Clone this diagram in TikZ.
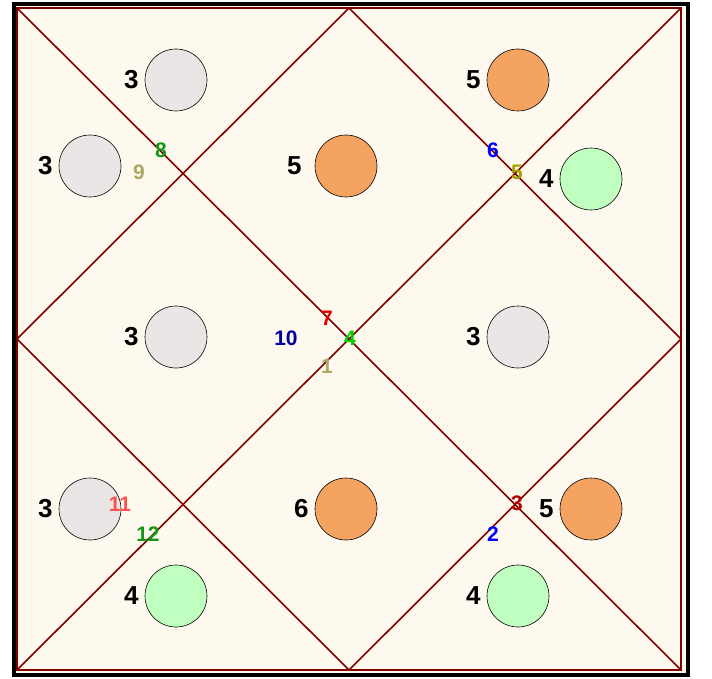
\documentclass[tikz,border=0pt]{standalone}
\usepackage{fontspec}
\setmainfont{Liberation Sans}
\usepackage{tikz}
\usetikzlibrary{
	positioning
}
\definecolor{ChartCream}{RGB}{254,249,239}
\definecolor{HouseLine}{RGB}{128,0,0}
\definecolor{PlanetGray}{RGB}{234,230,230}
\definecolor{PlanetOrange}{RGB}{244,164,96}
\definecolor{PlanetGreen}{RGB}{192,255,192}
\definecolor{SignGreen}{RGB}{20,150,20}
\definecolor{SignOlive}{RGB}{170,170,100}
\definecolor{SignBlue}{RGB}{0,0,255}
\definecolor{SignYellow}{RGB}{170,160,0}
\definecolor{SignRed}{RGB}{230,0,0}
\definecolor{SignNavy}{RGB}{0,0,160}
\definecolor{SignLime}{RGB}{0,210,0}
\definecolor{SignPink}{RGB}{255,80,80}
\definecolor{SignDark}{RGB}{180,0,0}

\begin{document}
\begin{tikzpicture}[
	x=1pt,y=-1pt,
	planet/.style={circle,draw=black,line width=0.6pt,minimum size=62pt,inner sep=0pt},
	count/.style={font=\fontsize{26}{26}\selectfont\bfseries,inner sep=0pt},
	sign/.style={font=\fontsize{21}{21}\selectfont\bfseries,inner sep=0pt},
	house/.style={draw=HouseLine,line width=1.6pt}
	]
				
				\useasboundingbox (0,0) rectangle (712,679);
				\fill[ChartCream] (14,4) rectangle (688,675);
				\draw[black,line width=4pt] (14,4) rectangle (688,675);
				
				% chart corners and midpoints
				\coordinate (NW) at (17,8);
				\coordinate (NE) at (681,8);
				\coordinate (SE) at (681,670);
				\coordinate (SW) at (17,670);
				\coordinate (N) at (349,8);
				\coordinate (E) at (681,339);
				\coordinate (S) at (349,670);
				\coordinate (W) at (17,339);
				
				\draw[house] (NW) rectangle (SE);
				\draw[house] (NW) -- (SE);
				\draw[house] (NE) -- (SW);
				\draw[house] (N) -- (E) -- (S) -- (W) -- cycle;
				
				% planets
				\node[planet,fill=PlanetGray] (P1) at (176,80) {};
				\node[count,left=6pt of P1] (N1) {3};
				
				\node[planet,fill=PlanetGray] (P2) at (90,166) {};
				\node[count,left=6pt of P2] (N2) {3};
				
				\node[planet,fill=PlanetOrange] (P3) at (346,166) {};
				\node[count,left=13pt of P3] (N3) {5};
				
				\node[planet,fill=PlanetOrange] (P4) at (518,80) {};
				\node[count,left=6pt of P4] (N4) {5};
				
				\node[planet,fill=PlanetGreen] (P5) at (591,179) {};
				\node[count,left=6pt of P5] (N5) {4};
				
				\node[planet,fill=PlanetGray] (P6) at (176,337) {};
				\node[count,left=6pt of P6] (N6) {3};
				
				\node[planet,fill=PlanetGray] (P7) at (518,337) {};
				\node[count,left=6pt of P7] (N7) {3};
				
				\node[planet,fill=PlanetGray] (P8) at (90,509) {};
				\node[count,left=6pt of P8] (N8) {3};
				
				\node[planet,fill=PlanetOrange] (P9) at (346,509) {};
				\node[count,left=6pt of P9] (N9) {6};
				
				\node[planet,fill=PlanetOrange] (P10) at (591,509) {};
				\node[count,left=6pt of P10] (N10) {5};
				
				\node[planet,fill=PlanetGreen] (P11) at (176,596) {};
				\node[count,left=6pt of P11] (N11) {4};
				
				\node[planet,fill=PlanetGreen] (P12) at (518,596) {};
				\node[count,left=6pt of P12] (N12) {4};
				
				% sign numbers
				\node[sign,text=SignGreen] (S8) at (161,150) {8};
				\node[sign,text=SignOlive] (S9) at (139,172) {9};
				\node[sign,text=SignBlue] (S6) at (493,150) {6};
				\node[sign,text=SignYellow] (S5) at (517,172) {5};
				\node[sign,text=SignRed] (S7) at (327,318) {7};
				\node[sign,text=SignNavy] (S10) at (286,338) {10};
				\node[sign,text=SignLime] (S4) at (350,338) {4};
				\node[sign,text=SignOlive] (S1) at (327,366) {1};
				\node[sign,text=SignPink] (S11) at (120,504) {11};
				\node[sign,text=SignGreen] (S12) at (148,534) {12};
				\node[sign,text=SignDark] (S3) at (517,503) {3};
				\node[sign,text=SignBlue] (S2) at (493,534) {2};
				
			\end{tikzpicture}
\end{document}
